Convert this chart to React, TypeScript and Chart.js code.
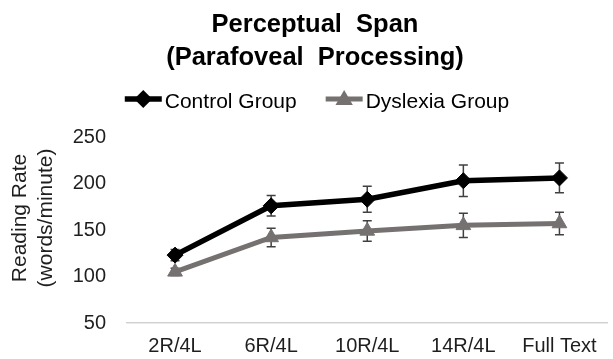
import React, { useEffect, useRef } from 'react';
import { Chart, registerables } from 'chart.js';

Chart.register(...registerables);

const categories = ['2R/4L', '6R/4L', '10R/4L', '14R/4L', 'Full Text'];
const controlValues = [123, 176, 183, 203, 206];
const controlErrors = [6, 11, 14, 17, 16];
const dyslexiaValues = [105, 142, 149, 155, 157];
const dyslexiaErrors = [4, 10, 11, 13, 12];
const yTicks = [50, 100, 150, 200, 250];
const titleLines = ['Perceptual  Span', '(Parafoveal  Processing)'];
const seriesNames = ['Control Group', 'Dyslexia Group'];
const yTitleLines = ['Reading Rate', '(words/minute)'];

const FONT = '"Liberation Sans", Arial, Helvetica, sans-serif';
const CONTROL_COLOR = '#000000';
const DYSLEXIA_COLOR = '#767171';
const ERR_COLOR = '#404040';
const TEXT_COLOR = '#1e1e1e';
const AXIS_LINE_COLOR = '#d0d0d0';

const errorsByDataset = [controlErrors, dyslexiaErrors];

function drawDiamond(ctx: CanvasRenderingContext2D, x: number, y: number, r: number) {
  ctx.beginPath();
  ctx.moveTo(x - r, y);
  ctx.lineTo(x, y - r);
  ctx.lineTo(x + r, y);
  ctx.lineTo(x, y + r);
  ctx.closePath();
  ctx.fill();
}

function drawTriangle(ctx: CanvasRenderingContext2D, x: number, y: number, r: number) {
  ctx.beginPath();
  ctx.moveTo(x, y - r);
  ctx.lineTo(x + Math.sin((2 * Math.PI) / 3) * r, y + r / 2);
  ctx.lineTo(x - Math.sin((2 * Math.PI) / 3) * r, y + r / 2);
  ctx.closePath();
  ctx.fill();
}

const errorBarPlugin = {
  id: 'errorBars',
  beforeDatasetsDraw(chart: any) {
    const { ctx } = chart;
    const yScale = chart.scales.y;
    chart.data.datasets.forEach((ds: any, i: number) => {
      const meta = chart.getDatasetMeta(i);
      const errs = errorsByDataset[i];
      meta.data.forEach((pt: any, j: number) => {
        const v = ds.data[j];
        const e = errs[j];
        const x = pt.x;
        const yTop = yScale.getPixelForValue(v + e);
        const yBot = yScale.getPixelForValue(v - e);
        ctx.save();
        ctx.strokeStyle = ERR_COLOR;
        ctx.lineWidth = 1.5;
        ctx.beginPath();
        ctx.moveTo(x, yTop);
        ctx.lineTo(x, yBot);
        ctx.moveTo(x - 4.5, yTop);
        ctx.lineTo(x + 4.5, yTop);
        ctx.moveTo(x - 4.5, yBot);
        ctx.lineTo(x + 4.5, yBot);
        ctx.stroke();
        ctx.restore();
      });
    });
  },
};

const headerPlugin = {
  id: 'header',
  afterDraw(chart: any) {
    const ctx: CanvasRenderingContext2D = chart.ctx;
    const centerX = 315;
    ctx.save();
    ctx.fillStyle = '#000';
    ctx.textAlign = 'center';
    ctx.textBaseline = 'alphabetic';
    ctx.font = `bold 25.5px ${FONT}`;
    ctx.fillText(titleLines[0], centerX, 32);
    ctx.fillText(titleLines[1], centerX, 65);

    // legend
    ctx.font = `21px ${FONT}`;
    const markerW = 37;
    const gap = 3;
    const itemGap = 29;
    const widths = seriesNames.map((n) => ctx.measureText(n).width);
    const total = widths.reduce((a, w) => a + markerW + gap + w, 0) + itemGap * (seriesNames.length - 1);
    let x = 317 - total / 2;
    const markerY = 99;
    const textY = 108;
    const colors = [CONTROL_COLOR, DYSLEXIA_COLOR];
    const lineWs = [5.5, 5];
    seriesNames.forEach((name, i) => {
      ctx.strokeStyle = colors[i];
      ctx.fillStyle = colors[i];
      ctx.lineWidth = lineWs[i];
      ctx.beginPath();
      ctx.moveTo(x, markerY);
      ctx.lineTo(x + markerW, markerY);
      ctx.stroke();
      if (i === 0) drawDiamond(ctx, x + markerW / 2, markerY, 9);
      else drawTriangle(ctx, x + markerW / 2, markerY + 1, 10);
      ctx.fillStyle = '#000';
      ctx.textAlign = 'left';
      ctx.fillText(name, x + markerW + gap, textY);
      x += markerW + gap + widths[i] + itemGap;
    });

    // y-axis title (two rotated lines)
    ctx.fillStyle = TEXT_COLOR;
    ctx.font = `21px ${FONT}`;
    ctx.textAlign = 'center';
    ctx.textBaseline = 'middle';
    const titleCenterY = 218;
    const lineXs = [20, 46];
    yTitleLines.forEach((line, i) => {
      ctx.save();
      ctx.translate(lineXs[i], titleCenterY);
      ctx.rotate(-Math.PI / 2);
      ctx.fillText(line, 0, 0);
      ctx.restore();
    });
    ctx.restore();
  },
};

export default function App() {
  const canvasRef = useRef<HTMLCanvasElement | null>(null);

  useEffect(() => {
    if (!canvasRef.current) return;
    const chart = new Chart(canvasRef.current, {
      type: 'line',
      data: {
        labels: categories,
        datasets: [
          {
            label: seriesNames[0],
            data: controlValues,
            borderColor: CONTROL_COLOR,
            backgroundColor: CONTROL_COLOR,
            borderWidth: 5.5,
            pointStyle: 'rectRot',
            pointRadius: 8,
            pointBorderWidth: 1,
            pointBackgroundColor: CONTROL_COLOR,
            pointBorderColor: CONTROL_COLOR,
            tension: 0,
            fill: false,
          },
          {
            label: seriesNames[1],
            data: dyslexiaValues,
            borderColor: DYSLEXIA_COLOR,
            backgroundColor: DYSLEXIA_COLOR,
            borderWidth: 5,
            pointStyle: 'triangle',
            pointRadius: 8.5,
            pointBorderWidth: 1,
            pointBackgroundColor: DYSLEXIA_COLOR,
            pointBorderColor: DYSLEXIA_COLOR,
            tension: 0,
            fill: false,
          },
        ],
      },
      options: {
        responsive: false,
        animation: false,
        devicePixelRatio: 1,
        layout: { padding: { top: 137, left: 0, right: 1, bottom: 1 } },
        plugins: {
          legend: { display: false },
          title: { display: false },
          tooltip: { enabled: false },
        },
        scales: {
          x: {
            type: 'category',
            offset: true,
            grid: { display: false, drawTicks: false },
            border: { display: true, color: AXIS_LINE_COLOR, width: 1.3 },
            afterFit: (axis: any) => {
              axis.height = 35;
              axis.paddingLeft = 0;
              axis.paddingRight = 0;
            },
            ticks: {
              color: TEXT_COLOR,
              padding: 11,
              font: { family: FONT, size: 20 },
              maxRotation: 0,
              autoSkip: false,
            },
          },
          y: {
            min: 50,
            max: 250,
            grid: {
              display: true,
              drawTicks: false,
              lineWidth: 1.3,
              color: (c: any) => (c.tick && c.tick.value === 50 ? AXIS_LINE_COLOR : 'rgba(0,0,0,0)'),
            },
            border: { display: false },
            afterBuildTicks: (axis: any) => {
              axis.ticks = yTicks.map((v) => ({ value: v }));
            },
            afterFit: (axis: any) => {
              axis.width = 127;
            },
            ticks: {
              color: TEXT_COLOR,
              padding: 21,
              font: { family: FONT, size: 20 },
            },
            title: { display: false },
          },
        },
      },
      plugins: [errorBarPlugin, headerPlugin],
    } as any);
    return () => chart.destroy();
  }, []);

  return (
    <div
      style={{
        position: 'fixed',
        left: 0,
        top: 0,
        width: 613,
        height: 359,
        overflow: 'hidden',
        background: '#fff',
      }}
    >
      <canvas ref={canvasRef} width={617} height={359} style={{ display: 'block' }} />
    </div>
  );
}
